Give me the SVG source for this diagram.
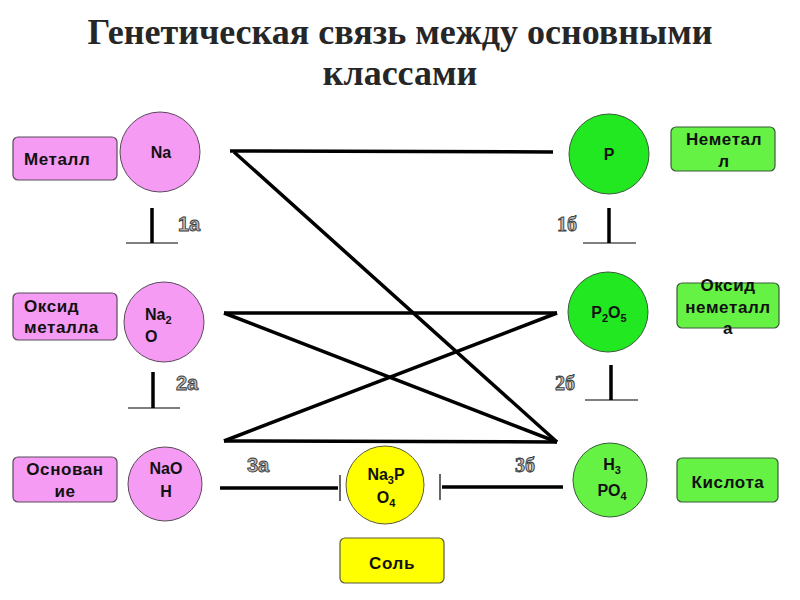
<svg xmlns="http://www.w3.org/2000/svg" width="800" height="600" viewBox="0 0 800 600">
<style>
.title{font-family:"Liberation Serif","Times New Roman",serif;font-weight:bold;font-size:36px;fill:#262626;text-anchor:middle}
.ct{font-family:"Liberation Sans",Arial,sans-serif;font-weight:bold;font-size:16px;fill:#111;text-anchor:middle}
.lt{font-family:"Liberation Sans",Arial,sans-serif;font-weight:bold;font-size:17px;fill:#111;text-anchor:middle;letter-spacing:0.6px}
.st{text-anchor:start}
.sub{font-size:11px}
.pink{fill:#f59bf3;stroke:#5a4a5a;stroke-width:1}
.green{fill:#22e822;stroke:#3a5a3a;stroke-width:1}
.lgreen{fill:#66f244;stroke:#3a5a3a;stroke-width:1}
.yellow{fill:#ffff00;stroke:#5a5a3a;stroke-width:1}
.box{stroke-width:1.2}
.con{stroke:#000;stroke-width:3.5;fill:none}
.thin{stroke:#000;stroke-width:1.2;fill:none}
.num{font-family:"Liberation Sans",Arial,sans-serif;font-weight:bold;font-size:20px;fill:#bdbdbd;stroke:#3a3a3a;stroke-width:0.9}
.nums{font-family:"Liberation Serif","Times New Roman",serif;font-weight:bold;font-size:20px;fill:#bdbdbd;stroke:#3a3a3a;stroke-width:0.9}
</style>
<rect width="800" height="600" fill="#fff"/>
<text class="title" x="400" y="44">Генетическая связь между основными</text>
<text class="title" x="400" y="85">классами</text>

<g id="connectors">
<line class="con" x1="230" y1="151" x2="553" y2="152"/>
<line class="con" x1="234" y1="152" x2="557" y2="442"/>
<line class="con" x1="224" y1="313" x2="557" y2="313"/>
<line class="con" x1="224" y1="313" x2="557" y2="442"/>
<line class="con" x1="557" y1="313" x2="224" y2="441"/>
<line class="con" x1="224" y1="441" x2="557" y2="442"/>
<line class="con" x1="220" y1="488" x2="338" y2="488"/>
<line class="thin" x1="340" y1="475" x2="340" y2="501"/>
<line class="con" x1="563" y1="487" x2="442" y2="487"/>
<line class="thin" x1="440" y1="474" x2="440" y2="500"/>
<line class="con" x1="152" y1="208" x2="152" y2="243" stroke-width="4.5"/>
<line class="thin" x1="126" y1="243" x2="178" y2="243" stroke-width="1.8"/>
<line class="con" x1="153" y1="372" x2="153" y2="408" stroke-width="4.5"/>
<line class="thin" x1="128" y1="408" x2="180" y2="408" stroke-width="1.8"/>
<line class="con" x1="609" y1="208" x2="609" y2="243" stroke-width="4.5"/>
<line class="thin" x1="583" y1="243" x2="636" y2="243" stroke-width="1.8"/>
<line class="con" x1="611" y1="365" x2="611" y2="400" stroke-width="4.5"/>
<line class="thin" x1="585" y1="400" x2="638" y2="400" stroke-width="1.8"/>
<text class="num" x="178" y="231">1а</text>
<text class="num" x="176" y="390">2а</text>
<text class="nums" x="557" y="231">1б</text>
<text class="nums" x="555" y="390">2б</text>
<text class="num" x="247" y="472">3а</text>
<text class="nums" x="515" y="472">3б</text>
</g>

<g id="metal-label"><rect class="pink box" x="13" y="137" width="104" height="43" rx="5"/><text class="lt st" x="24" y="165">Металл</text></g>
<g id="na"><circle class="pink" cx="160" cy="152" r="40"/><text class="ct" x="161" y="158">Na</text></g>

<g id="oxide-metal-label"><rect class="pink box" x="13" y="293" width="104" height="47" rx="5"/><text class="lt st" x="24" y="312">Оксид</text><text class="lt st" x="24" y="333">металла</text></g>
<g id="na2o"><circle class="pink" cx="164" cy="322" r="40"/><text class="ct st" x="145" y="320">Na<tspan class="sub" dy="4">2</tspan></text><text class="ct st" x="145" y="342">O</text></g>

<g id="base-label"><rect class="pink box" x="13" y="457" width="104" height="45" rx="5"/><text class="lt" x="65" y="475">Основан</text><text class="lt" x="65" y="497">ие</text></g>
<g id="naoh"><circle class="pink" cx="165" cy="484" r="37"/><text class="ct" x="166" y="474">NaO</text><text class="ct" x="166" y="497">H</text></g>

<g id="nonmetal-label"><rect class="lgreen box" x="671" y="127" width="104" height="44" rx="5"/><text class="lt" x="724" y="145">Неметал</text><text class="lt" x="724" y="167">л</text></g>
<g id="p"><circle class="green" cx="609" cy="154" r="40"/><text class="ct" x="609" y="160">P</text></g>

<g id="oxide-nonmetal-label"><rect class="lgreen box" x="677" y="283" width="102" height="45" rx="5"/><text class="lt" x="728" y="291">Оксид</text><text class="lt" x="728" y="313">неметалл</text><text class="lt" x="728" y="334">а</text></g>
<g id="p2o5"><circle class="green" cx="608" cy="312" r="40"/><text class="ct" x="609" y="318">P<tspan class="sub" dy="4">2</tspan><tspan dy="-4">O</tspan><tspan class="sub" dy="4">5</tspan></text></g>

<g id="acid-label"><rect class="lgreen box" x="677" y="458" width="101" height="44" rx="5"/><text class="lt" x="728" y="488">Кислота</text></g>
<g id="h3po4"><circle class="lgreen" cx="610" cy="480" r="37"/><text class="ct" x="612" y="470">H<tspan class="sub" dy="4">3</tspan></text><text class="ct" x="612" y="496">PO<tspan class="sub" dy="4">4</tspan></text></g>

<g id="na3po4"><circle class="yellow" cx="385" cy="485" r="39"/><text class="ct" x="386" y="480">Na<tspan class="sub" dy="4">3</tspan><tspan dy="-4">P</tspan></text><text class="ct" x="386" y="503">O<tspan class="sub" dy="4">4</tspan></text></g>
<g id="salt-label"><rect class="yellow box" x="340" y="538" width="104" height="45" rx="5"/><text class="lt" x="392" y="569">Соль</text></g>
</svg>
